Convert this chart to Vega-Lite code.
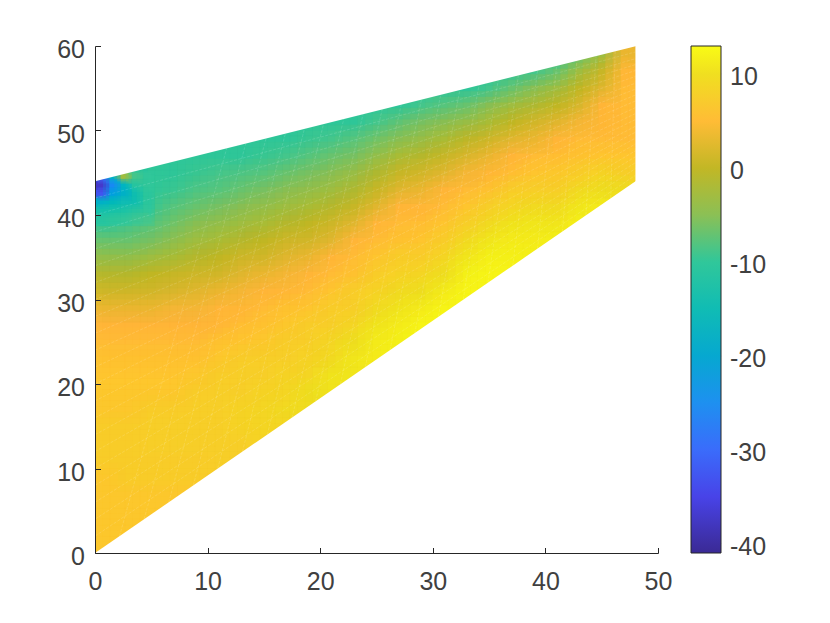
{
"$schema":"https://vega.github.io/schema/vega-lite/v6.json",
"autosize":"none","width":563,"height":507,
"padding":{"left":95,"top":46,"right":172,"bottom":70},
"background":"white",
"view":{"stroke":null},
"datasets":{
"cells":[
{"x":1,"y":1,"v":7},{"x":1,"y":3,"v":7},{"x":1,"y":5,"v":7},{"x":1,"y":7,"v":7},{"x":1,"y":9,"v":7},{"x":1,"y":11,"v":7.5},{"x":1,"y":13,"v":7.5},{"x":1,"y":15,"v":7.5},{"x":1,"y":17,"v":7},{"x":1,"y":19,"v":7},{"x":1,"y":21,"v":6.5},{"x":1,"y":23,"v":6},{"x":1,"y":25,"v":5},{"x":1,"y":27,"v":4},{"x":1,"y":29,"v":3},{"x":1,"y":31,"v":1},{"x":1,"y":33,"v":-1},{"x":1,"y":35,"v":-4},{"x":1,"y":37,"v":-7},{"x":1,"y":39,"v":-10},{"x":1,"y":41,"v":-14},{"x":1,"y":43,"v":-22},{"x":1,"y":45,"v":-22},
{"x":3,"y":1,"v":7},{"x":3,"y":3,"v":7},{"x":3,"y":5,"v":7},{"x":3,"y":7,"v":7},{"x":3,"y":9,"v":7.5},{"x":3,"y":11,"v":7.5},{"x":3,"y":13,"v":7.5},{"x":3,"y":15,"v":7.5},{"x":3,"y":17,"v":7},{"x":3,"y":19,"v":7},{"x":3,"y":21,"v":6.5},{"x":3,"y":23,"v":6},{"x":3,"y":25,"v":5},{"x":3,"y":27,"v":4},{"x":3,"y":29,"v":3},{"x":3,"y":31,"v":1},{"x":3,"y":33,"v":-1},{"x":3,"y":35,"v":-4},{"x":3,"y":37,"v":-7},{"x":3,"y":39,"v":-9},{"x":3,"y":41,"v":-12},{"x":3,"y":43,"v":-15},{"x":3,"y":45,"v":-12},
{"x":5,"y":3,"v":7},{"x":5,"y":5,"v":7},{"x":5,"y":7,"v":7},{"x":5,"y":9,"v":7.5},{"x":5,"y":11,"v":7.5},{"x":5,"y":13,"v":8},{"x":5,"y":15,"v":8},{"x":5,"y":17,"v":7.5},{"x":5,"y":19,"v":7},{"x":5,"y":21,"v":6.5},{"x":5,"y":23,"v":6},{"x":5,"y":25,"v":5},{"x":5,"y":27,"v":4},{"x":5,"y":29,"v":3},{"x":5,"y":31,"v":1.5},{"x":5,"y":33,"v":0},{"x":5,"y":35,"v":-3},{"x":5,"y":37,"v":-6},{"x":5,"y":39,"v":-8},{"x":5,"y":41,"v":-9.5},{"x":5,"y":43,"v":-10},{"x":5,"y":45,"v":-10},{"x":5,"y":47,"v":-10},
{"x":7,"y":5,"v":7},{"x":7,"y":7,"v":7},{"x":7,"y":9,"v":7.5},{"x":7,"y":11,"v":7.5},{"x":7,"y":13,"v":8},{"x":7,"y":15,"v":8},{"x":7,"y":17,"v":7.5},{"x":7,"y":19,"v":7},{"x":7,"y":21,"v":6.5},{"x":7,"y":23,"v":6},{"x":7,"y":25,"v":5},{"x":7,"y":27,"v":4},{"x":7,"y":29,"v":3.5},{"x":7,"y":31,"v":2},{"x":7,"y":33,"v":0.5},{"x":7,"y":35,"v":-2},{"x":7,"y":37,"v":-4.5},{"x":7,"y":39,"v":-6.5},{"x":7,"y":41,"v":-8},{"x":7,"y":43,"v":-9.5},{"x":7,"y":45,"v":-10},{"x":7,"y":47,"v":-10},
{"x":9,"y":7,"v":7},{"x":9,"y":9,"v":7.5},{"x":9,"y":11,"v":7.5},{"x":9,"y":13,"v":8},{"x":9,"y":15,"v":8},{"x":9,"y":17,"v":8},{"x":9,"y":19,"v":7.5},{"x":9,"y":21,"v":7},{"x":9,"y":23,"v":6},{"x":9,"y":25,"v":5},{"x":9,"y":27,"v":4},{"x":9,"y":29,"v":3.5},{"x":9,"y":31,"v":2.5},{"x":9,"y":33,"v":1},{"x":9,"y":35,"v":-1},{"x":9,"y":37,"v":-3},{"x":9,"y":39,"v":-5},{"x":9,"y":41,"v":-7},{"x":9,"y":43,"v":-8.5},{"x":9,"y":45,"v":-9.5},{"x":9,"y":47,"v":-10},
{"x":11,"y":9,"v":7.5},{"x":11,"y":11,"v":8},{"x":11,"y":13,"v":8},{"x":11,"y":15,"v":8},{"x":11,"y":17,"v":8},{"x":11,"y":19,"v":8},{"x":11,"y":21,"v":7.5},{"x":11,"y":23,"v":7},{"x":11,"y":25,"v":6},{"x":11,"y":27,"v":4.5},{"x":11,"y":29,"v":4},{"x":11,"y":31,"v":3},{"x":11,"y":33,"v":1.5},{"x":11,"y":35,"v":0},{"x":11,"y":37,"v":-2},{"x":11,"y":39,"v":-4},{"x":11,"y":41,"v":-6},{"x":11,"y":43,"v":-8},{"x":11,"y":45,"v":-9},{"x":11,"y":47,"v":-10},{"x":11,"y":49,"v":-10},
{"x":13,"y":11,"v":8},{"x":13,"y":13,"v":8},{"x":13,"y":15,"v":8.5},{"x":13,"y":17,"v":8.5},{"x":13,"y":19,"v":8},{"x":13,"y":21,"v":8},{"x":13,"y":23,"v":7.5},{"x":13,"y":25,"v":6.5},{"x":13,"y":27,"v":5.5},{"x":13,"y":29,"v":4.5},{"x":13,"y":31,"v":3.5},{"x":13,"y":33,"v":2.5},{"x":13,"y":35,"v":1},{"x":13,"y":37,"v":-1},{"x":13,"y":39,"v":-3},{"x":13,"y":41,"v":-5},{"x":13,"y":43,"v":-7},{"x":13,"y":45,"v":-8.5},{"x":13,"y":47,"v":-10},{"x":13,"y":49,"v":-10},
{"x":15,"y":13,"v":8.5},{"x":15,"y":15,"v":9},{"x":15,"y":17,"v":9},{"x":15,"y":19,"v":8.5},{"x":15,"y":21,"v":8},{"x":15,"y":23,"v":8},{"x":15,"y":25,"v":7},{"x":15,"y":27,"v":6},{"x":15,"y":29,"v":5},{"x":15,"y":31,"v":4},{"x":15,"y":33,"v":3},{"x":15,"y":35,"v":1.5},{"x":15,"y":37,"v":0},{"x":15,"y":39,"v":-2},{"x":15,"y":41,"v":-4},{"x":15,"y":43,"v":-6},{"x":15,"y":45,"v":-8},{"x":15,"y":47,"v":-9.5},{"x":15,"y":49,"v":-10},
{"x":17,"y":15,"v":9},{"x":17,"y":17,"v":9.5},{"x":17,"y":19,"v":9},{"x":17,"y":21,"v":8.5},{"x":17,"y":23,"v":8},{"x":17,"y":25,"v":7.5},{"x":17,"y":27,"v":7},{"x":17,"y":29,"v":6},{"x":17,"y":31,"v":4.5},{"x":17,"y":33,"v":3.5},{"x":17,"y":35,"v":2.5},{"x":17,"y":37,"v":1},{"x":17,"y":39,"v":-1},{"x":17,"y":41,"v":-3},{"x":17,"y":43,"v":-5},{"x":17,"y":45,"v":-7},{"x":17,"y":47,"v":-9},{"x":17,"y":49,"v":-10},{"x":17,"y":51,"v":-10},
{"x":19,"y":17,"v":10},{"x":19,"y":19,"v":10},{"x":19,"y":21,"v":9},{"x":19,"y":23,"v":8.5},{"x":19,"y":25,"v":8},{"x":19,"y":27,"v":7.5},{"x":19,"y":29,"v":6.5},{"x":19,"y":31,"v":5},{"x":19,"y":33,"v":4},{"x":19,"y":35,"v":3},{"x":19,"y":37,"v":1.5},{"x":19,"y":39,"v":0},{"x":19,"y":41,"v":-2},{"x":19,"y":43,"v":-4},{"x":19,"y":45,"v":-6},{"x":19,"y":47,"v":-8},{"x":19,"y":49,"v":-9.5},{"x":19,"y":51,"v":-10},
{"x":21,"y":19,"v":10.5},{"x":21,"y":21,"v":10.5},{"x":21,"y":23,"v":9.5},{"x":21,"y":25,"v":9},{"x":21,"y":27,"v":8},{"x":21,"y":29,"v":7.5},{"x":21,"y":31,"v":6.5},{"x":21,"y":33,"v":5},{"x":21,"y":35,"v":4},{"x":21,"y":37,"v":2.5},{"x":21,"y":39,"v":1},{"x":21,"y":41,"v":-1},{"x":21,"y":43,"v":-3},{"x":21,"y":45,"v":-5},{"x":21,"y":47,"v":-7},{"x":21,"y":49,"v":-9},{"x":21,"y":51,"v":-10},
{"x":23,"y":21,"v":11},{"x":23,"y":23,"v":11},{"x":23,"y":25,"v":10},{"x":23,"y":27,"v":9},{"x":23,"y":29,"v":8},{"x":23,"y":31,"v":7.5},{"x":23,"y":33,"v":6},{"x":23,"y":35,"v":5},{"x":23,"y":37,"v":4},{"x":23,"y":39,"v":2.5},{"x":23,"y":41,"v":0.5},{"x":23,"y":43,"v":-1.5},{"x":23,"y":45,"v":-3.5},{"x":23,"y":47,"v":-6},{"x":23,"y":49,"v":-8},{"x":23,"y":51,"v":-10},{"x":23,"y":53,"v":-10},
{"x":25,"y":23,"v":11.5},{"x":25,"y":25,"v":11.5},{"x":25,"y":27,"v":10.5},{"x":25,"y":29,"v":9.5},{"x":25,"y":31,"v":8.5},{"x":25,"y":33,"v":7.5},{"x":25,"y":35,"v":6.5},{"x":25,"y":37,"v":5},{"x":25,"y":39,"v":4},{"x":25,"y":41,"v":2.5},{"x":25,"y":43,"v":0.5},{"x":25,"y":45,"v":-1.5},{"x":25,"y":47,"v":-4},{"x":25,"y":49,"v":-6.5},{"x":25,"y":51,"v":-9},{"x":25,"y":53,"v":-10},
{"x":27,"y":23,"v":12},{"x":27,"y":25,"v":12},{"x":27,"y":27,"v":11.5},{"x":27,"y":29,"v":10.5},{"x":27,"y":31,"v":9.5},{"x":27,"y":33,"v":8.5},{"x":27,"y":35,"v":7.5},{"x":27,"y":37,"v":6},{"x":27,"y":39,"v":5},{"x":27,"y":41,"v":4},{"x":27,"y":43,"v":2.5},{"x":27,"y":45,"v":0.5},{"x":27,"y":47,"v":-2},{"x":27,"y":49,"v":-5},{"x":27,"y":51,"v":-7.5},{"x":27,"y":53,"v":-10},
{"x":29,"y":25,"v":12.5},{"x":29,"y":27,"v":12.5},{"x":29,"y":29,"v":11.5},{"x":29,"y":31,"v":10},{"x":29,"y":33,"v":9},{"x":29,"y":35,"v":7.5},{"x":29,"y":37,"v":6.5},{"x":29,"y":39,"v":5.5},{"x":29,"y":41,"v":4.2},{"x":29,"y":43,"v":3},{"x":29,"y":45,"v":1.5},{"x":29,"y":47,"v":-1},{"x":29,"y":49,"v":-3.5},{"x":29,"y":51,"v":-6},{"x":29,"y":53,"v":-9},{"x":29,"y":55,"v":-10},
{"x":31,"y":27,"v":12.5},{"x":31,"y":29,"v":12.5},{"x":31,"y":31,"v":11.5},{"x":31,"y":33,"v":10},{"x":31,"y":35,"v":9},{"x":31,"y":37,"v":7.5},{"x":31,"y":39,"v":6.5},{"x":31,"y":41,"v":5},{"x":31,"y":43,"v":4},{"x":31,"y":45,"v":2.5},{"x":31,"y":47,"v":0.5},{"x":31,"y":49,"v":-2},{"x":31,"y":51,"v":-5},{"x":31,"y":53,"v":-8},{"x":31,"y":55,"v":-10},
{"x":33,"y":29,"v":12.5},{"x":33,"y":31,"v":12.5},{"x":33,"y":33,"v":12},{"x":33,"y":35,"v":11},{"x":33,"y":37,"v":9.5},{"x":33,"y":39,"v":8},{"x":33,"y":41,"v":6.5},{"x":33,"y":43,"v":5},{"x":33,"y":45,"v":3.5},{"x":33,"y":47,"v":2},{"x":33,"y":49,"v":-0.5},{"x":33,"y":51,"v":-3.5},{"x":33,"y":53,"v":-7},{"x":33,"y":55,"v":-10},
{"x":35,"y":31,"v":12.5},{"x":35,"y":33,"v":12.5},{"x":35,"y":35,"v":12},{"x":35,"y":37,"v":11},{"x":35,"y":39,"v":9.5},{"x":35,"y":41,"v":8},{"x":35,"y":43,"v":6},{"x":35,"y":45,"v":4.5},{"x":35,"y":47,"v":3},{"x":35,"y":49,"v":1},{"x":35,"y":51,"v":-2},{"x":35,"y":53,"v":-5},{"x":35,"y":55,"v":-9},{"x":35,"y":57,"v":-10},
{"x":37,"y":33,"v":12.5},{"x":37,"y":35,"v":12},{"x":37,"y":37,"v":11.5},{"x":37,"y":39,"v":10.5},{"x":37,"y":41,"v":9},{"x":37,"y":43,"v":7.5},{"x":37,"y":45,"v":5.5},{"x":37,"y":47,"v":4},{"x":37,"y":49,"v":2.5},{"x":37,"y":51,"v":0},{"x":37,"y":53,"v":-3},{"x":37,"y":55,"v":-7},{"x":37,"y":57,"v":-10},
{"x":39,"y":35,"v":12},{"x":39,"y":37,"v":11.5},{"x":39,"y":39,"v":11},{"x":39,"y":41,"v":9.5},{"x":39,"y":43,"v":8},{"x":39,"y":45,"v":6.5},{"x":39,"y":47,"v":5},{"x":39,"y":49,"v":3},{"x":39,"y":51,"v":1.5},{"x":39,"y":53,"v":-1.5},{"x":39,"y":55,"v":-5},{"x":39,"y":57,"v":-9},
{"x":41,"y":37,"v":12},{"x":41,"y":39,"v":11},{"x":41,"y":41,"v":9.5},{"x":41,"y":43,"v":8},{"x":41,"y":45,"v":7},{"x":41,"y":47,"v":5.5},{"x":41,"y":49,"v":4},{"x":41,"y":51,"v":2.5},{"x":41,"y":53,"v":0},{"x":41,"y":55,"v":-3},{"x":41,"y":57,"v":-7},{"x":41,"y":59,"v":-10},
{"x":43,"y":39,"v":12},{"x":43,"y":41,"v":11},{"x":43,"y":43,"v":9.5},{"x":43,"y":45,"v":7.5},{"x":43,"y":47,"v":6},{"x":43,"y":49,"v":5},{"x":43,"y":51,"v":3.5},{"x":43,"y":53,"v":2},{"x":43,"y":55,"v":0},{"x":43,"y":57,"v":-3},{"x":43,"y":59,"v":-7},
{"x":45,"y":41,"v":11.5},{"x":45,"y":43,"v":10},{"x":45,"y":45,"v":8.5},{"x":45,"y":47,"v":6.5},{"x":45,"y":49,"v":5},{"x":45,"y":51,"v":4.5},{"x":45,"y":53,"v":4},{"x":45,"y":55,"v":2.5},{"x":45,"y":57,"v":0.5},{"x":45,"y":59,"v":-3},
{"x":47,"y":43,"v":10},{"x":47,"y":45,"v":8},{"x":47,"y":47,"v":6.5},{"x":47,"y":49,"v":5},{"x":47,"y":51,"v":5},{"x":47,"y":53,"v":5},{"x":47,"y":55,"v":5},{"x":47,"y":57,"v":4.5},{"x":47,"y":59,"v":3}
],
"corner":[
{"x":0.5,"y":39.5,"v":-11},{"x":1.5,"y":39.5,"v":-10.5},{"x":2.5,"y":39.5,"v":-10},{"x":3.5,"y":39.5,"v":-9.5},{"x":4.5,"y":39.5,"v":-9},
{"x":0.5,"y":40.5,"v":-13},{"x":1.5,"y":40.5,"v":-12.5},{"x":2.5,"y":40.5,"v":-12},{"x":3.5,"y":40.5,"v":-11},{"x":4.5,"y":40.5,"v":-10},
{"x":0.5,"y":41.5,"v":-18},{"x":1.5,"y":41.5,"v":-16},{"x":2.5,"y":41.5,"v":-15},{"x":3.5,"y":41.5,"v":-14},{"x":4.5,"y":41.5,"v":-10.5},
{"x":0.5,"y":42.5,"v":-33},{"x":1.5,"y":42.5,"v":-22},{"x":2.5,"y":42.5,"v":-18},{"x":3.5,"y":42.5,"v":-14},{"x":4.5,"y":42.5,"v":-10.5},
{"x":0.5,"y":43.5,"v":-37},{"x":1.5,"y":43.5,"v":-26},{"x":2.5,"y":43.5,"v":-17},{"x":3.5,"y":43.5,"v":-11},{"x":4.5,"y":43.5,"v":-10},
{"x":0.5,"y":44.5,"v":-30},{"x":1.5,"y":44.5,"v":-18},{"x":2.5,"y":44.5,"v":-3},{"x":3.5,"y":44.5,"v":-9},{"x":4.5,"y":44.5,"v":-10}
],
"mesh":[
{"k":"a1","x":0,"y":2},{"k":"a1","x":48,"y":44.7},{"k":"a2","x":0,"y":4},{"k":"a2","x":48,"y":45.5},{"k":"a3","x":0,"y":6},{"k":"a3","x":48,"y":46.2},{"k":"a4","x":0,"y":8},{"k":"a4","x":48,"y":46.9},{"k":"a5","x":0,"y":10},{"k":"a5","x":48,"y":47.6},{"k":"a6","x":0,"y":12},{"k":"a6","x":48,"y":48.4},{"k":"a7","x":0,"y":14},{"k":"a7","x":48,"y":49.1},{"k":"a8","x":0,"y":16},{"k":"a8","x":48,"y":49.8},{"k":"a9","x":0,"y":18},{"k":"a9","x":48,"y":50.5},{"k":"a10","x":0,"y":20},{"k":"a10","x":48,"y":51.3},{"k":"a11","x":0,"y":22},{"k":"a11","x":48,"y":52},{"k":"a12","x":0,"y":24},{"k":"a12","x":48,"y":52.7},{"k":"a13","x":0,"y":26},{"k":"a13","x":48,"y":53.5},{"k":"a14","x":0,"y":28},{"k":"a14","x":48,"y":54.2},{"k":"a15","x":0,"y":30},{"k":"a15","x":48,"y":54.9},{"k":"a16","x":0,"y":32},{"k":"a16","x":48,"y":55.6},{"k":"a17","x":0,"y":34},{"k":"a17","x":48,"y":56.4},{"k":"a18","x":0,"y":36},{"k":"a18","x":48,"y":57.1},{"k":"a19","x":0,"y":38},{"k":"a19","x":48,"y":57.8},{"k":"a20","x":0,"y":40},{"k":"a20","x":48,"y":58.5},{"k":"a21","x":0,"y":42},{"k":"a21","x":48,"y":59.3},
{"k":"b1","x":2.18,"y":2},{"k":"b1","x":11.7,"y":47.9},{"k":"b2","x":4.36,"y":4},{"k":"b2","x":13.4,"y":48.5},{"k":"b3","x":6.55,"y":6},{"k":"b3","x":15.2,"y":49.1},{"k":"b4","x":8.73,"y":8},{"k":"b4","x":16.9,"y":49.6},{"k":"b5","x":10.9,"y":10},{"k":"b5","x":18.6,"y":50.2},{"k":"b6","x":13.1,"y":12},{"k":"b6","x":20.3,"y":50.8},{"k":"b7","x":15.3,"y":14},{"k":"b7","x":22.1,"y":51.4},{"k":"b8","x":17.5,"y":16},{"k":"b8","x":23.8,"y":51.9},{"k":"b9","x":19.6,"y":18},{"k":"b9","x":25.5,"y":52.5},{"k":"b10","x":21.8,"y":20},{"k":"b10","x":27.2,"y":53.1},{"k":"b11","x":24,"y":22},{"k":"b11","x":29,"y":53.7},{"k":"b12","x":26.2,"y":24},{"k":"b12","x":30.7,"y":54.2},{"k":"b13","x":28.4,"y":26},{"k":"b13","x":32.4,"y":54.8},{"k":"b14","x":30.5,"y":28},{"k":"b14","x":34.1,"y":55.4},{"k":"b15","x":32.7,"y":30},{"k":"b15","x":35.8,"y":55.9},{"k":"b16","x":34.9,"y":32},{"k":"b16","x":37.6,"y":56.5},{"k":"b17","x":37.1,"y":34},{"k":"b17","x":39.3,"y":57.1},{"k":"b18","x":39.3,"y":36},{"k":"b18","x":41,"y":57.7},{"k":"b19","x":41.5,"y":38},{"k":"b19","x":42.8,"y":58.3},{"k":"b20","x":43.6,"y":40},{"k":"b20","x":44.5,"y":58.8},{"k":"b21","x":45.8,"y":42},{"k":"b21","x":46.2,"y":59.4}
],
"mask":[
{"m":"low","x":0,"y":0,"y2":0},{"m":"low","x":48.1,"y":0,"y2":44.09},
{"m":"right","x":48,"y":0,"y2":60},{"m":"right","x":50,"y":0,"y2":60},
{"m":"up","x":0,"y":44,"y2":60},{"m":"up","x":48.1,"y":60,"y2":60}
],
"barticks":[
{"x":55.1,"x2":55.6,"y":1.11},{"x":55.1,"x2":55.6,"y":12.2},{"x":55.1,"x2":55.6,"y":23.3},{"x":55.1,"x2":55.6,"y":34.4},{"x":55.1,"x2":55.6,"y":45.6},{"x":55.1,"x2":55.6,"y":56.7}
]
},
"encoding":{
"x":{"field":"x","type":"quantitative","scale":{"domain":[0,50],"nice":false},"axis":{"values":[0,10,20,30,40,50],"grid":false,"title":null,"zindex":1,"domainColor":"#262626","tickColor":"#262626","labelColor":"#404040","labelFont":"Liberation Sans","labelFontSize":25,"labelFlush":false,"labelOverlap":false,"tickSize":-5.5,"labelPadding":22,"domainWidth":1,"tickWidth":1}},
"y":{"field":"y","type":"quantitative","scale":{"domain":[0,60],"nice":false},"axis":{"values":[0,10,20,30,40,50,60],"grid":false,"title":null,"zindex":1,"domainColor":"#262626","tickColor":"#262626","labelColor":"#404040","labelFont":"Liberation Sans","labelFontSize":25,"labelFlush":false,"labelOverlap":false,"tickSize":-5.5,"labelPadding":16,"labelOffset":3.5,"domainWidth":1,"tickWidth":1}}
},
"layer":[
{"data":{"name":"cells"},
"encoding":{"color":{"field":"v","type":"quantitative","scale":{"domain":[-41,-35,-30,-25,-20,-15,-10,-5,0,2,4,7,10,13],"range":["#3a2a95","#4843e8","#3a6cfb","#1e90f0","#06a8d0","#10bcb4","#30c79a","#8bc055","#c2b725","#d9b82e","#ffb63a","#fdc92e","#f0df20","#f9fb15"]},
"legend":{"orient":"none","legendX":596,"legendY":0,"title":null,"gradientLength":507,"gradientThickness":30,"values":[-40,-30,-20,-10,0,10],"labelExpr":"''+datum.value","labelFontSize":25,"labelFont":"Liberation Sans","labelColor":"#404040","labelOffset":9,"labelOverlap":false,"gradientStrokeColor":"#262626","gradientStrokeWidth":1,"encode":{"gradient":{"update":{"opacity":{"value":1}}},"labels":{"update":{"dy":{"value":3}}}}}}},
"layer":[
{"mark":{"type":"rect","width":23,"height":17.5,"clip":true}},
{"mark":{"type":"rect","width":23,"height":17.5,"clip":true,"xOffset":-7.5,"yOffset":-5.6,"opacity":0.5}},
{"mark":{"type":"rect","width":23,"height":17.5,"clip":true,"xOffset":7.5,"yOffset":5.6,"opacity":0.333}},
{"mark":{"type":"rect","width":23,"height":17.5,"clip":true,"xOffset":-7.5,"yOffset":5.6,"opacity":0.25}},
{"mark":{"type":"rect","width":23,"height":17.5,"clip":true,"xOffset":7.5,"yOffset":-5.6,"opacity":0.2}},
{"mark":{"type":"rect","width":23,"height":17.5,"clip":true,"yOffset":-5.6,"opacity":0.167}},
{"mark":{"type":"rect","width":23,"height":17.5,"clip":true,"yOffset":5.6,"opacity":0.143}},
{"mark":{"type":"rect","width":23,"height":17.5,"clip":true,"xOffset":-7.5,"opacity":0.125}},
{"mark":{"type":"rect","width":23,"height":17.5,"clip":true,"xOffset":7.5,"opacity":0.111}}
]},
{"data":{"name":"corner"},
"encoding":{"color":{"field":"v","type":"quantitative"}},
"layer":[
{"mark":{"type":"rect","width":11.8,"height":8.9,"clip":true}},
{"mark":{"type":"rect","width":11.8,"height":8.9,"clip":true,"xOffset":3,"yOffset":2.2,"opacity":0.5}},
{"mark":{"type":"rect","width":11.8,"height":8.9,"clip":true,"xOffset":-3,"yOffset":-2.2,"opacity":0.333}},
{"mark":{"type":"rect","width":11.8,"height":8.9,"clip":true,"xOffset":3,"yOffset":-2.2,"opacity":0.25}}
]},
{"data":{"name":"mesh"},
"mark":{"type":"line","color":"white","strokeWidth":0.7,"opacity":0.2,"strokeDash":[3,1.5],"clip":true},
"encoding":{"detail":{"field":"k"}}},
{"data":{"name":"mask"},
"mark":{"type":"area","color":"white","clip":true},
"encoding":{"y2":{"field":"y2"},"detail":{"field":"m"}}},
{"data":{"name":"barticks"},
"mark":{"type":"rule","color":"#262626","strokeWidth":1},
"encoding":{"x2":{"field":"x2"}}}
]
}
